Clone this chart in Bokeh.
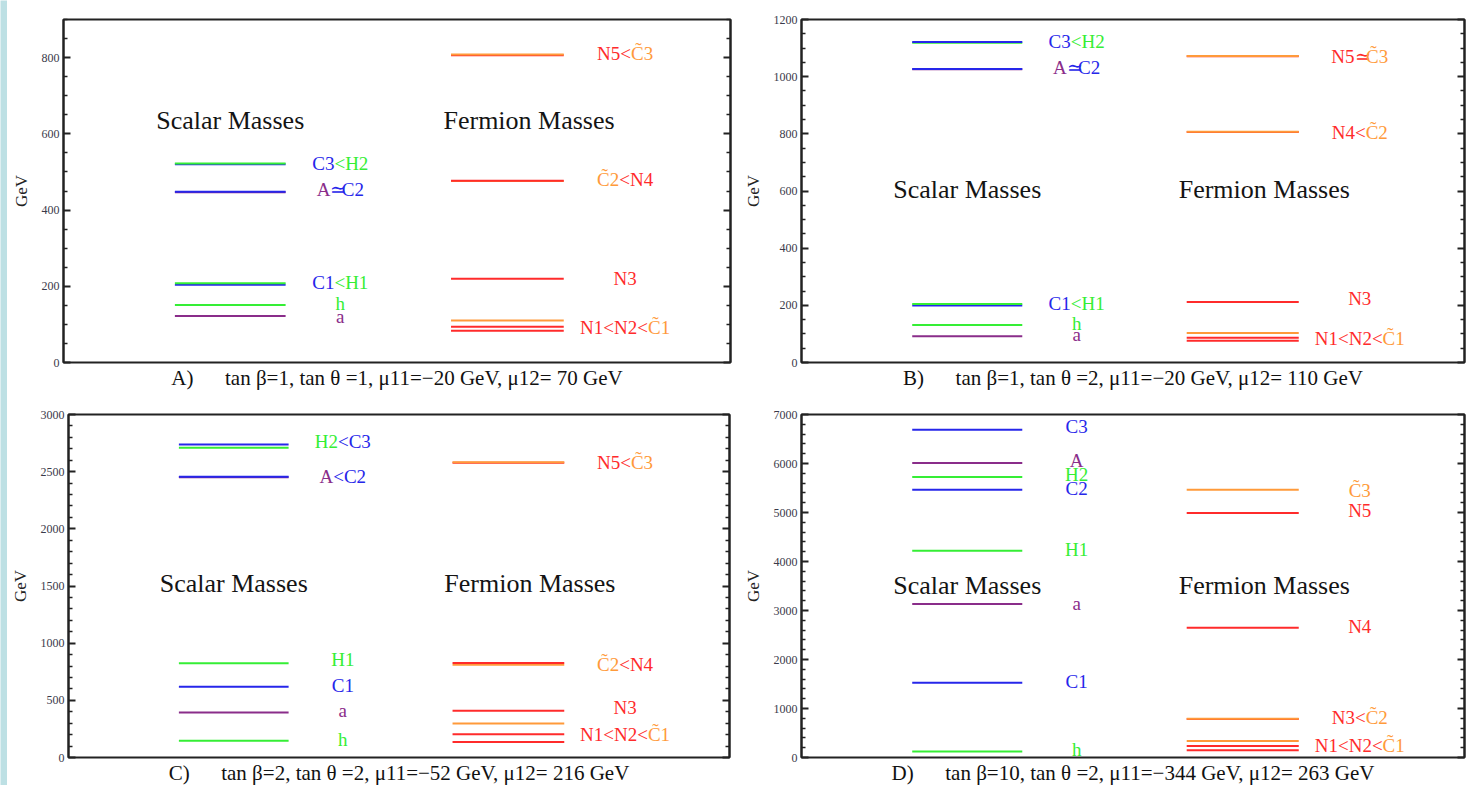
import re

from bokeh.core.properties import value
from bokeh.embed import file_html
from bokeh.layouts import column, row
from bokeh.models import ColumnDataSource, FixedTicker, LinearAxis, Range1d, Title
from bokeh.plotting import figure
from bokeh.resources import INLINE

# ---------------------------------------------------------------- data
TILDE = "\u0303"

# Benchmark parameters of the four spectra
bench_tags = ["A", "B", "C", "D"]
tan_beta = [1, 1, 2, 10]
tan_theta = [1, 2, 2, 2]
mu11 = [-20, -20, -52, -344]
mu12 = [70, 110, 216, 263]
gev_max = [900, 1200, 3000, 7000]

# Spectrum A
a_scalar_names = ["C3", "H2", "A", "C2", "C1", "H1", "h", "a"]
a_scalar_mass = [520, 522, 447, 448, 204, 208, 151, 122]
a_fermion_names = ["N5", "C\u03033", "C\u03032", "N4", "N3", "C\u03031", "N2", "N1"]
a_fermion_mass = [806, 808, 476, 477, 220, 110, 94, 83]
a_scalar_tags = ["C3<H2", "A\u2243C2", "C1<H1", "h", "a"]
a_scalar_tag_at = [523, 453, 210, 155, 122]
a_fermion_tags = ["N5<C\u03033", "C\u03032<N4", "N3", "N1<N2<C\u03031"]
a_fermion_tag_at = [810, 481, 220, 91]

# Spectrum B
b_scalar_names = ["H2", "C3", "A", "C2", "C1", "H1", "h", "a"]
b_scalar_mass = [1119, 1121, 1026, 1027, 199, 205, 131, 92]
b_fermion_names = ["N5", "C\u03033", "N4", "C\u03032", "N3", "C\u03031", "N2", "N1"]
b_fermion_mass = [1071, 1072, 806, 807, 212, 103, 87, 76]
b_scalar_tags = ["C3<H2", "A\u2243C2", "C1<H1", "h", "a"]
b_scalar_tag_at = [1124, 1031, 206, 137, 98]
b_fermion_tags = ["N5\u2243C\u03033", "N4<C\u03032", "N3", "N1<N2<C\u03031"]
b_fermion_tag_at = [1070, 806, 224, 85]

# Spectrum C
c_scalar_names = ["H2", "C3", "A", "C2", "H1", "C1", "a", "h"]
c_scalar_mass = [2710, 2738, 2452, 2456, 825, 618, 393, 146]
c_fermion_names = ["N5", "C\u03033", "C\u03032", "N4", "N3", "C\u03031", "N2", "N1"]
c_fermion_mass = [2578, 2582, 812, 826, 408, 297, 204, 135]
c_scalar_tags = ["H2<C3", "A<C2", "H1", "C1", "a", "h"]
c_scalar_tag_at = [2760, 2454, 854, 629, 414, 157]
c_fermion_tags = ["N5<C\u03033", "C\u03032<N4", "N3", "N1<N2<C\u03031"]
c_fermion_tag_at = [2582, 816, 437, 205]

# Spectrum D
d_scalar_names = ["C3", "A", "H2", "C2", "H1", "a", "C1", "h"]
d_scalar_mass = [6688, 6012, 5723, 5466, 4218, 3131, 1526, 121]
d_fermion_names = ["C\u03033", "N5", "N4", "N3", "C\u03032", "C\u03031", "N2", "N1"]
d_fermion_mass = [5466, 4988, 2646, 785, 790, 338, 237, 150]
d_scalar_tags = ["C3", "A", "H2", "C2", "H1", "a", "C1", "h"]
d_scalar_tag_at = [6749, 6053, 5777, 5486, 4245, 3138, 1553, 170]
d_fermion_tags = ["C\u03033", "N5", "N4", "N3<C\u03032", "N1<N2<C\u03031"]
d_fermion_tag_at = [5453, 5040, 2666, 810, 237]

# ---------------------------------------------------------------- style
FONT = "Liberation Serif"
PAGE_BG = "#bde0e4"
INK = "#222222"
GREEN = "#35ee35"
BLUE = "#2626ea"
PURPLE = "#8a2d8a"
RED = "#ff2b2b"
ORANGE = "#ff9a3a"

TAG_SIZE = 19
HEAD_SIZE = 26

# Times-compatible advance widths (per 1000 em) for the tag glyphs
ADVANCE = {"C": 667, "H": 722, "A": 722, "N": 722, "a": 444, "h": 500,
           "<": 564, "\u2243": 600, " ": 250, TILDE: 0}
for d in "0123456789":
    ADVANCE[d] = 500


def particle_color(tok):
    if tok.startswith("C" + TILDE):
        return ORANGE
    if tok[0] == "C":
        return BLUE
    if tok[0] in "Hh":
        return GREEN
    if tok[0] in "Aa":
        return PURPLE
    return RED


def text_width(s, size):
    return sum(ADVANCE.get(ch, 550) for ch in s) / 1000.0 * size


def tag_segments(tags, tag_at, x_center, fermion):
    """Split each tag into coloured runs laid out left to right, centred on x_center."""
    xs, ys, texts, colors, offs = [], [], [], [], []
    for tag, y in zip(tags, tag_at):
        toks = re.findall(r"C\u0303\d|[A-Za-z]\d?|[<\u2243]", tag)
        cols = []
        for i, t in enumerate(toks):
            if t in ("<", "\u2243"):
                cols.append(RED if fermion else particle_color(toks[i + 1]))
            else:
                cols.append(particle_color(t))
        total = sum(text_width(t, TAG_SIZE) for t in toks)
        cursor = -total / 2.0
        for t, c in zip(toks, cols):
            xs.append(x_center)
            ys.append(y)
            texts.append(t)
            colors.append(c)
            offs.append(cursor)
            cursor += text_width(t, TAG_SIZE)
    return ColumnDataSource(dict(x=xs, y=ys, text=texts, color=colors, off=offs))


def spectrum_panel(k, scalars, fermions, heading_at, major, minor,
                   width, height, borders):
    s_names, s_mass, s_tags, s_tag_at = scalars
    f_names, f_mass, f_tags, f_tag_at = fermions
    left, right, top, bottom = borders
    ymax = gev_max[k]

    p = figure(width=width, height=height, title=None,
               x_range=Range1d(0, 1), y_range=Range1d(0, ymax),
               x_axis_location=None, y_axis_location="left",
               output_backend="svg", toolbar_location=None,
               min_border_left=left, min_border_right=right,
               min_border_top=top, min_border_bottom=bottom,
               background_fill_color="white", border_fill_color="white",
               outline_line_color=INK, outline_line_width=2)
    p.grid.visible = False

    ticks = list(range(0, ymax + 1, major))
    minors = [v for v in range(0, ymax + 1, minor) if v % major]
    ax = p.yaxis[0]
    ax.ticker = FixedTicker(ticks=ticks, minor_ticks=minors)
    ax.axis_line_color = INK
    ax.axis_line_width = 2
    ax.major_tick_in, ax.major_tick_out = 7, 0
    ax.minor_tick_in, ax.minor_tick_out = 4, 0
    ax.major_tick_line_color = INK
    ax.minor_tick_line_color = INK
    ax.major_tick_line_width = 2
    ax.minor_tick_line_width = 1.5
    ax.major_label_text_font = FONT
    ax.major_label_text_font_size = "12px"
    ax.major_label_text_color = "#3a3a4a"
    ax.major_label_standoff = 4
    ax.axis_label = "GeV"
    ax.axis_label_text_font = FONT
    ax.axis_label_text_font_size = "17px"
    ax.axis_label_text_font_style = "normal"
    ax.axis_label_text_color = "#222222"
    ax.axis_label_standoff = 8

    # tick marks along the right edge, without numbers
    rax = LinearAxis(ticker=FixedTicker(ticks=ticks, minor_ticks=minors),
                     axis_line_color=INK, axis_line_width=2,
                     major_tick_in=7, major_tick_out=0,
                     minor_tick_in=4, minor_tick_out=0,
                     major_tick_line_color=INK, minor_tick_line_color=INK,
                     major_tick_line_width=2, minor_tick_line_width=1.5,
                     major_label_text_font_size="1px",
                     major_label_text_color=None, major_label_standoff=0)
    p.add_layout(rax, "right")

    # mass levels: scalars on the left, fermions on the right
    s_src = ColumnDataSource(dict(m=s_mass, c=[particle_color(n) for n in s_names]))
    p.segment(x0=0.167, x1=0.333, y0="m", y1="m", line_color="c",
              line_width=2, source=s_src)
    f_src = ColumnDataSource(dict(m=f_mass, c=[ORANGE if n.startswith("C") else RED
                                               for n in f_names]))
    p.segment(x0=0.581, x1=0.750, y0="m", y1="m", line_color="c",
              line_width=2, source=f_src)

    # level names
    for src in (tag_segments(s_tags, s_tag_at, 0.415, False),
                tag_segments(f_tags, f_tag_at, 0.842, True)):
        p.text(x="x", y="y", text="text", text_color="color", x_offset="off",
               source=src, text_align="left", text_baseline="middle",
               text_font=value(FONT), text_font_size=f"{TAG_SIZE}px")

    p.text(x=[0.25, 0.698], y=[heading_at, heading_at],
           text=["Scalar Masses", "Fermion Masses"],
           text_align="center", text_baseline="middle",
           text_font=value(FONT), text_font_size=f"{HEAD_SIZE}px",
           text_color="#141414")

    caption = (f"{bench_tags[k]})\u2003\u2002tan \u03b2={tan_beta[k]}, "
               f"tan \u03b8 ={tan_theta[k]}, \u03bc11=\u2212{abs(mu11[k])} GeV, "
               f"\u03bc12= {mu12[k]} GeV")
    p.add_layout(Title(text=caption, align="center", text_font=FONT,
                       text_font_size="21px", text_font_style="normal",
                       text_color="#111111", standoff=2), "below")
    return p


pA = spectrum_panel(0,
                    (a_scalar_names, a_scalar_mass, a_scalar_tags, a_scalar_tag_at),
                    (a_fermion_names, a_fermion_mass, a_fermion_tags, a_fermion_tag_at),
                    636, 200, 50, 733, 385, (56, 10, 11, 25))
pB = spectrum_panel(1,
                    (b_scalar_names, b_scalar_mass, b_scalar_tags, b_scalar_tag_at),
                    (b_fermion_names, b_fermion_mass, b_fermion_tags, b_fermion_tag_at),
                    606, 200, 50, 740, 385, (60, 16, 14, 26))
pC = spectrum_panel(2,
                    (c_scalar_names, c_scalar_mass, c_scalar_tags, c_scalar_tag_at),
                    (c_fermion_names, c_fermion_mass, c_fermion_tags, c_fermion_tag_at),
                    1518, 500, 100, 733, 395, (61, 11, 24, 28))
pD = spectrum_panel(3,
                    (d_scalar_names, d_scalar_mass, d_scalar_tags, d_scalar_tag_at),
                    (d_fermion_names, d_fermion_mass, d_fermion_tags, d_fermion_tag_at),
                    3516, 1000, 200, 740, 395, (61, 16, 22, 28))


def strip(w, h):
    s = figure(width=w, height=h, toolbar_location=None, output_backend="svg",
               min_border=0, x_axis_location=None, y_axis_location=None,
               outline_line_color=None, background_fill_color=PAGE_BG,
               border_fill_color=PAGE_BG)
    s.grid.visible = False
    return s


page = row(strip(7, 785),
           column(strip(1473, 5), row(pA, pB), row(pC, pD)))

with open("out.html", "w") as fh:
    fh.write(file_html(page, INLINE, title="Scalar and fermion mass spectra"))
